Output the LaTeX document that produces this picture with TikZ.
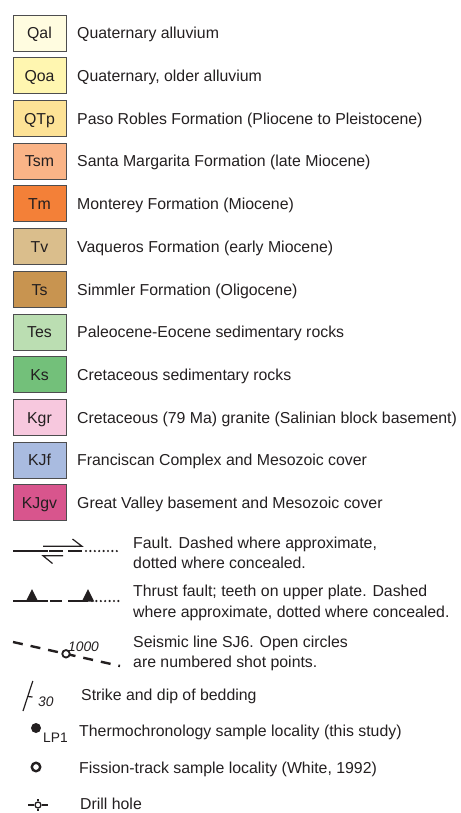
\documentclass[tikz,border=0pt]{standalone}
\usepackage{fontspec}
\setmainfont{Liberation Sans}
\definecolor{txt}{HTML}{231F20}
\definecolor{boxline}{HTML}{4D4D4F}
\definecolor{cQal}{RGB}{255,252,224}
\definecolor{cQoa}{RGB}{255,246,176}
\definecolor{cQTp}{RGB}{253,226,150}
\definecolor{cTsm}{RGB}{250,180,135}
\definecolor{cTm}{RGB}{243,128,56}
\definecolor{cTv}{RGB}{218,190,140}
\definecolor{cTs}{RGB}{200,148,80}
\definecolor{cTes}{RGB}{187,222,178}
\definecolor{cKs}{RGB}{115,192,122}
\definecolor{cKgr}{RGB}{247,200,222}
\definecolor{cKJf}{RGB}{169,187,224}
\definecolor{cKJgv}{RGB}{216,85,141}
\begin{document}
\begin{tikzpicture}[x=1pt,y=-1pt,
  every node/.style={text=txt,font=\fontsize{15.85}{19}\selectfont,inner sep=0pt},
  unitbox/.style={draw=boxline,line width=0.9pt,minimum width=53pt,minimum height=36pt},
  lbl/.style={anchor=base west},
  boxlbl/.style={anchor=base},
  small/.style={font=\fontsize{13.8}{16}\selectfont\itshape},
  smallup/.style={font=\fontsize{13.8}{16}\selectfont},
  thickln/.style={draw=txt,line width=2.5pt},
  thinln/.style={draw=txt,line width=1.2pt},
  dotln/.style={draw=txt,line width=2.4pt,line cap=round,dash pattern=on 0pt off 4.4pt}]
\useasboundingbox (0,0) rectangle (460,813);
\foreach \c/\d [count=\i from 0] in {
  Qal/{Quaternary alluvium},
  Qoa/{Quaternary, older alluvium},
  QTp/{Paso Robles Formation (Pliocene to Pleistocene)},
  Tsm/{Santa Margarita Formation (late Miocene)},
  Tm/{Monterey Formation (Miocene)},
  Tv/{Vaqueros Formation (early Miocene)},
  Ts/{Simmler Formation (Oligocene)},
  Tes/{Paleocene-Eocene sedimentary rocks},
  Ks/{Cretaceous sedimentary rocks},
  Kgr/{Cretaceous (79 Ma) granite (Salinian block basement)},
  KJf/{Franciscan Complex and Mesozoic cover},
  KJgv/{Great Valley basement and Mesozoic cover}}{
  \pgfmathsetmacro{\yc}{33+42.72*\i}
  \node[unitbox,fill=c\c] (box\i) at (39.5,\yc) {};
  \node[boxlbl] (lab\i) at (39.5,\yc+5.7) {\c};
  \node[lbl] (desc\i) at (77,\yc+5.7) {\d};
}
% Fault
\coordinate (fa) at (13,551);
\coordinate (fb) at (63,551);
\coordinate (fc) at (68,551);
\coordinate (fd) at (82,551);
\coordinate (fe) at (86,551);
\coordinate (ff) at (120,551);
\draw[thickln] (fa) -- (fb);
\draw[thickln] (fc) -- (fd);
\draw[dotln] (fe) -- (ff);
\coordinate (fu1) at (43,546.3);
\coordinate (fu2) at (82,546.3);
\coordinate (fu3) at (72.5,539);
\coordinate (fl1) at (43,555.7);
\coordinate (fl2) at (63,555.7);
\coordinate (fl3) at (52.5,563.5);
\draw[thinln] (fu3) -- (fu2) -- (fu1);
\draw[thinln] (fl2) -- (fl1) -- (fl3);
\draw[white,line width=1pt] (48,549) -- (48,553);
\node[lbl] (ft1) at (133,548) {Fault. Dashed where approximate,};
\node[lbl] (ft2) at (133,568.5) {dotted where concealed.};
% Thrust fault
\coordinate (ta) at (13,601);
\coordinate (tb) at (48,601);
\coordinate (tc) at (50,601);
\coordinate (td) at (62,601);
\coordinate (te) at (68,601);
\coordinate (tf) at (88,601);
\coordinate (tg) at (92,601);
\coordinate (th) at (120,601);
\draw[thickln] (ta) -- (tb);
\draw[thickln] (tc) -- (td);
\draw[thickln] (te) -- (tf);
\draw[dotln] (tg) -- (th);
\fill[txt] (25.8,601.5) -- (32,589) -- (38.2,601.5) -- cycle;
\fill[txt] (81.8,601.5) -- (88,589) -- (94.2,601.5) -- cycle;
\node[lbl] (tt1) at (133,596.5) {Thrust fault; teeth on upper plate. Dashed};
\node[lbl] (tt2) at (133,617.5) {where approximate, dotted where concealed.};
% Seismic line
\coordinate (sa) at (13,642);
\coordinate (sb) at (120,666);
\draw[draw=txt,line width=2.4pt,dash pattern=on 10pt off 8pt] (sa) -- (sb);
\node[circle,draw=txt,fill=white,line width=1.8pt,minimum size=7.5pt] (shot) at (66,653.8) {};
\node[small,anchor=base west] (s1000) at (68,651) {1000};
\node[lbl] (st1) at (133,647.5) {Seismic line SJ6. Open circles};
\node[lbl] (st2) at (133,667.5) {are numbered shot points.};
% Strike and dip
\coordinate (da) at (23,711);
\coordinate (db) at (32.8,681);
\coordinate (dm) at (27.7,696.5);
\coordinate (dt) at (32.5,697);
\draw[draw=txt,line width=1.2pt] (da) -- (db);
\draw[draw=txt,line width=1.2pt] (dm) -- (dt);
\node[small,anchor=base west] (d30) at (38,706) {30};
\node[lbl] (dtxt) at (81,700.5) {Strike and dip of bedding};
% Thermochronology sample
\node[circle,fill=txt,minimum size=10pt] (lp) at (36,728) {};
\node[smallup,anchor=base west] (lp1) at (43,742) {LP1};
\node[lbl] (lptxt) at (79,736.5) {Thermochronology sample locality (this study)};
% Fission-track
\node[circle,draw=txt,line width=2.4pt,minimum size=8.5pt] (ftk) at (36,767) {};
\node[lbl] (fttxt) at (79,773.5) {Fission-track sample locality (White, 1992)};
% Drill hole
\node[circle,draw=txt,line width=1.3pt,minimum size=6pt] (dh) at (38,805) {};
\coordinate (dh1) at (28,805);
\coordinate (dh2) at (48,805);
\coordinate (dh3) at (38,799);
\coordinate (dh4) at (38,811);
\draw[draw=txt,line width=1.3pt] (dh1) -- (dh.west) (dh.east) -- (dh2);
\draw[draw=txt,line width=1.3pt] (dh3) -- (dh.north) (dh.south) -- (dh4);
\node[lbl] (dhtxt) at (80,809.5) {Drill hole};
\end{tikzpicture}
\end{document}
